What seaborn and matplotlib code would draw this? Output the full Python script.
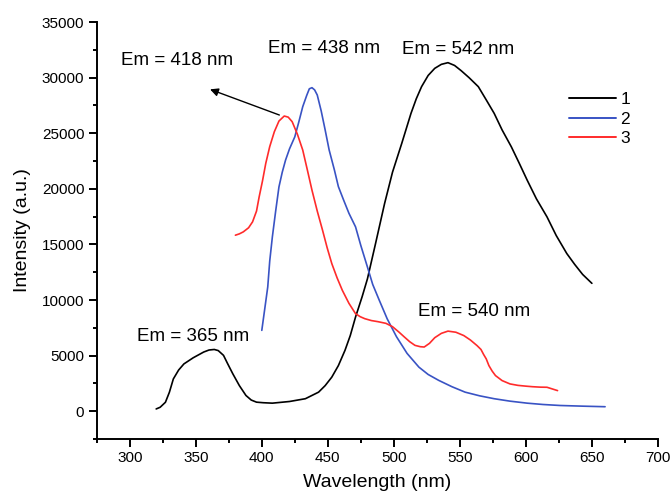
import matplotlib
matplotlib.use("Agg")
import matplotlib.pyplot as plt
import seaborn as sns
import pandas as pd
from matplotlib.ticker import MultipleLocator

# ---- data ----
wl_1 = [320, 323, 327, 330, 333, 337, 341, 348, 356, 360, 364, 367, 371, 374, 378, 383, 388, 392, 396,
        401, 408, 421, 433, 443, 448, 453, 458, 463, 467, 471, 476, 480, 486, 493, 499,
        506, 513, 517, 521, 526, 531, 536, 541, 546, 551, 557, 564, 570, 576, 582, 589,
        595, 601, 608, 616, 623, 631, 637, 643, 650]
int_1 = [200, 350, 800, 1700, 2900, 3700, 4250, 4800, 5320, 5500, 5550, 5450, 5020, 4300, 3370, 2300, 1410, 1000, 810,
         760, 720, 870, 1120, 1710, 2300, 3060, 4100, 5470, 6800, 8470, 10300, 11900, 15000, 18680, 21500,
         24090, 26790, 28100, 29190, 30200, 30840, 31200, 31350, 31100, 30630, 30000, 29190, 28000, 26790, 25300, 23780,
         22300, 20780, 19100, 17480, 15800, 14180, 13200, 12300, 11500]

wl_2 = [400, 402, 404.5, 406, 408, 410.5, 413, 415.5, 418, 421, 425, 428, 431, 434, 436, 438,
        440, 442, 445, 448, 451, 455, 458, 462, 466, 471, 475, 480, 484, 489, 495,
        502, 510, 519, 526, 534, 544, 554, 565, 576, 588, 601, 613, 626, 643, 660]
int_2 = [7270, 9000, 11170, 13500, 15680, 18000, 20180, 21500, 22590, 23600, 24680, 26000, 27390, 28400, 29000, 29100,
         28900, 28440, 27000, 25290, 23500, 21690, 20200, 18980, 17800, 16580, 14900, 12970, 11400, 9970, 8300,
         6700, 5200, 3960, 3300, 2770, 2200, 1710, 1380, 1120, 900, 720, 600, 510, 450, 400]

wl_3 = [380, 383, 386, 390, 393, 396, 398, 400.5, 403, 406, 409.5, 413, 417, 420, 423, 427,
        431, 434.5, 438, 442, 446, 449.5, 453, 457, 461, 466, 471, 474.5, 478, 483,
        488, 494, 499, 504, 508, 512, 516, 520, 523, 527, 531, 536, 541, 547, 553, 558,
        563, 566, 568, 570, 572, 574.5, 577, 582, 588, 594, 600, 605, 611, 616, 624]
int_3 = [15830, 15950, 16130, 16500, 17030, 18000, 19280, 20700, 22290, 23800, 25140, 26100, 26550, 26450, 26040, 24900,
         23490, 21700, 19880, 18000, 16280, 14700, 13280, 12000, 10870, 9700, 8770, 8500, 8320, 8150,
         8050, 7900, 7600, 7100, 6670, 6250, 5920, 5800, 5770, 6100, 6610, 7000, 7200, 7100, 6800, 6400,
         5900, 5550, 5100, 4700, 4100, 3600, 3200, 2750, 2450, 2320, 2250, 2200, 2160, 2150, 1850]

series_labels = ["1", "2", "3"]
series_colors = ["#000000", "#3953c4", "#ff2b2b"]

annot_texts = ["Em = 418 nm", "Em = 438 nm", "Em = 542 nm", "Em = 365 nm", "Em = 540 nm"]

x_label = "Wavelength (nm)"
y_label = "Intensity (a.u.)"

# ---- style ----
sns.set_style("ticks")
plt.rcParams["font.family"] = ["Liberation Sans", "DejaVu Sans"]
plt.rcParams["text.color"] = "black"
plt.rcParams["axes.labelcolor"] = "black"
plt.rcParams["xtick.color"] = "black"
plt.rcParams["ytick.color"] = "black"

fig = plt.figure(figsize=(6.72, 4.91), dpi=100)
ax = fig.add_axes([0.144, 0.106, 0.835, 0.849])

frames = [
    pd.DataFrame({"wl": wl_1, "I": int_1}),
    pd.DataFrame({"wl": wl_2, "I": int_2}),
    pd.DataFrame({"wl": wl_3, "I": int_3}),
]
for df, lab, col in zip(frames, series_labels, series_colors):
    sns.lineplot(data=df, x="wl", y="I", ax=ax, color=col, label=lab,
                 linewidth=1.2, sort=False, estimator=None)

ax.set_xlim(275, 700)
ax.set_ylim(-2500, 35000)
ax.xaxis.set_major_locator(MultipleLocator(50))
ax.xaxis.set_minor_locator(MultipleLocator(25))
ax.yaxis.set_major_locator(MultipleLocator(5000))
ax.yaxis.set_minor_locator(MultipleLocator(2500))

for side in ["top", "right"]:
    ax.spines[side].set_visible(False)
for side in ["left", "bottom"]:
    ax.spines[side].set_linewidth(1.4)
    ax.spines[side].set_color("black")

ax.tick_params(which="major", direction="out", length=5.5, width=1.4, labelsize=11,
               colors="black", pad=3.5)
ax.tick_params(which="minor", direction="out", length=3, width=1.4, colors="black")

ax.set_xlabel(x_label, fontsize=14, labelpad=6)
ax.set_ylabel(y_label, fontsize=14, labelpad=8)

# annotations
ax.text(335.6, 31570, annot_texts[0], fontsize=13.5, ha="center", va="center")
ax.annotate("", xy=(360.8, 28950), xytext=(413.3, 26640),
            arrowprops=dict(arrowstyle="-|>", color="black", lw=1.0,
                            mutation_scale=12, shrinkA=0, shrinkB=0))
ax.text(447, 32590, annot_texts[1], fontsize=13.5, ha="center", va="center")
ax.text(548.7, 32560, annot_texts[2], fontsize=13.5, ha="center", va="center")
ax.text(348.1, 6730, annot_texts[3], fontsize=13.5, ha="center", va="center")
ax.text(560.9, 9010, annot_texts[4], fontsize=13.5, ha="center", va="center")

leg = ax.legend(loc="upper left", bbox_to_anchor=(0.842, 0.832), frameon=False,
                fontsize=12.5, handlelength=2.7, handletextpad=0.25,
                labelspacing=0.25, borderpad=0, borderaxespad=0)
for line in leg.get_lines():
    line.set_linewidth(1.4)

fig.savefig("out.png", dpi=100)
